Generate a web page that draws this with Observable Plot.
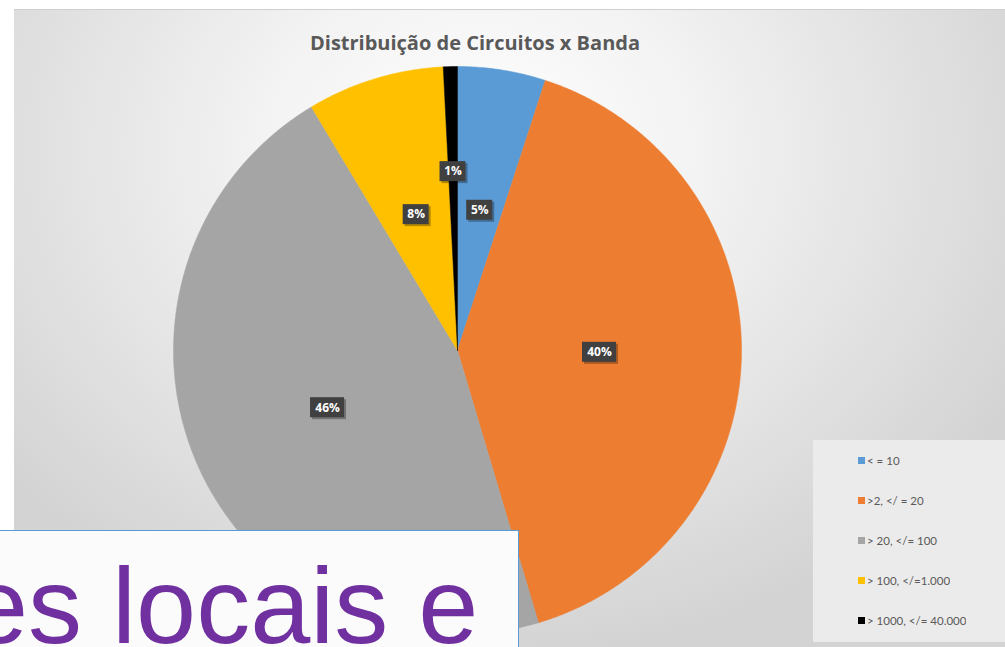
<!DOCTYPE html>
<html>
<head>
<meta charset="utf-8">
<script src="https://cdn.jsdelivr.net/npm/d3@7"></script>
<script src="https://cdn.jsdelivr.net/npm/@observablehq/plot@0.6"></script>
<style>
  html, body { margin: 0; padding: 0; background: #ffffff; width: 1005px; height: 647px; overflow: hidden; }
  #stage { position: relative; width: 1005px; height: 647px; }
  #bg { position: absolute; left: 14px; top: 9px; width: 991px; height: 638px;
        border-top: 1px solid #cfcfcf;
        background: radial-gradient(ellipse 62% 80% at 47% 22%, #ffffff 0%, #f3f3f3 35%, #d3d3d3 100%); }
  #chart { position: absolute; left: 0; top: 0; }
  #title { position: absolute; left: 225px; top: 29px; width: 500px; text-align: center;
           font-family: "Open Sans", sans-serif; font-weight: 700; font-size: 20px; color: #595959; }
  #legendbox { position: absolute; left: 813px; top: 440px; width: 200px; height: 202px;
               background: #ebebeb; }
  #legendbox > div { position: absolute; left: 45px; top: 0; }
  .lg-swatch { height: 40px !important; display: flex !important; align-items: center !important; margin: 0 !important; padding: 0 !important; }
  .lg-swatch svg { margin-right: 2px !important; }
  #overlay { position: absolute; left: -2px; top: 530px; width: 521px; height: 130px;
             background: #fbfbfb; border: 1.5px solid #5b9bd5; box-sizing: border-box; overflow: hidden; }
  #overlay span { position: absolute; left: -31px; top: 21px; line-height: 1; white-space: nowrap;
                  font-family: "Liberation Sans", Arial, sans-serif; font-size: 108px; color: #7030a0; }
</style>
</head>
<body>
<div id="stage">
  <div id="bg"></div>
  <div id="chart"></div>
  <div id="title">Distribuição de Circuitos x Banda</div>
  <div id="legendbox"></div>
  <div id="overlay"><span>es locais e</span></div>
</div>
<script>
// ---- data ----
const categories = ["< = 10", ">2, </ = 20", "> 20, </= 100", "> 100, </=1.000", "> 1000, </= 40.000"];
const shares = [5.0, 40.4, 46.0, 7.8, 0.8];
const colors = ["#5b9bd5", "#ed7d31", "#a5a5a5", "#ffc000", "#000000"];

// ---- derived tables ----
const arcs = d3.pie().sort(null).startAngle(0).endAngle(2 * Math.PI)(shares);
const slicePoints = [];
arcs.forEach((a, i) => {
  const cat = categories[i];
  slicePoints.push({cat, x: 0, y: 0});
  const n = Math.max(2, Math.ceil((a.endAngle - a.startAngle) / (2 * Math.PI) * 720));
  for (let k = 0; k <= n; k++) {
    const t = a.startAngle + (a.endAngle - a.startAngle) * k / n;
    slicePoints.push({cat, x: Math.sin(t), y: Math.cos(t)});
  }
  slicePoints.push({cat, x: 0, y: 0});
});
const labels = arcs.map((a, i) => {
  const m = (a.startAngle + a.endAngle) / 2;
  const r = shares[i] < 2 ? 0.63 : 0.5;
  return {cat: categories[i], text: Math.round(shares[i]) + "%", x: r * Math.sin(m), y: r * Math.cos(m)};
});
const short = labels.filter(d => d.text.length <= 2);
const long = labels.filter(d => d.text.length > 2);

const boxOpts = (w, extra) => Object.assign({
  x1: "x", x2: "x", y1: "y", y2: "y",
  insetLeft: -w / 2, insetRight: -w / 2, insetTop: -10, insetBottom: -10
}, extra);

const chart = Plot.plot({
  width: 1005,
  height: 647,
  marginLeft: 173,
  marginRight: 264,
  marginTop: 66,
  marginBottom: 13,
  style: {background: "transparent", overflow: "visible"},
  x: {domain: [-1, 1], axis: null},
  y: {domain: [-1, 1], axis: null},
  color: {domain: categories, range: colors},
  marks: [
    Plot.line(slicePoints, {x: "x", y: "y", z: "cat", fill: "cat", stroke: "cat", strokeWidth: 0.5, curve: "linear"}),
    Plot.rect(short, boxOpts(26, {fill: "#000", fillOpacity: 0.3, dx: 2, dy: 2})),
    Plot.rect(long, boxOpts(34, {fill: "#000", fillOpacity: 0.3, dx: 2, dy: 2})),
    Plot.rect(short, boxOpts(26, {fill: "#404040"})),
    Plot.rect(long, boxOpts(34, {fill: "#404040"})),
    Plot.text(labels, {x: "x", y: "y", text: "text", fill: "white", fontWeight: "bold", fontSize: 12, fontFamily: "Open Sans"})
  ]
});
document.getElementById("chart").appendChild(chart);

const legend = Plot.legend({
  color: {domain: categories, range: colors, type: "ordinal"},
  legend: "swatches",
  columns: 1,
  swatchSize: 7,
  className: "lg",
  style: {fontFamily: "Lato, sans-serif", fontSize: "11.5px", color: "#595959", background: "transparent"}
});
document.getElementById("legendbox").appendChild(legend);
</script>
</body>
</html>
